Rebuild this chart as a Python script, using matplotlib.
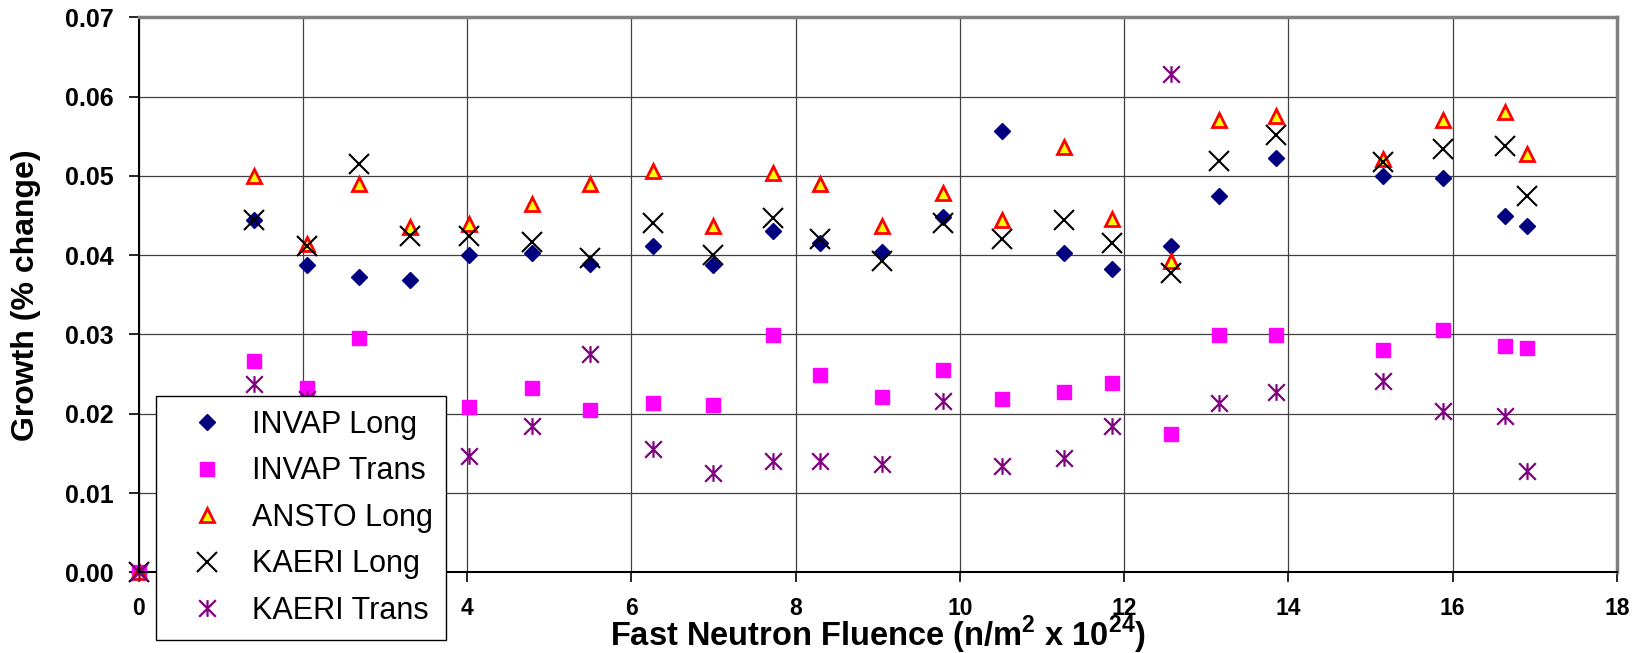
import numpy as np
import matplotlib
matplotlib.use("Agg")
import matplotlib.pyplot as plt
from matplotlib.path import Path

plt.rcParams['font.family'] = ['Liberation Sans', 'DejaVu Sans']
plt.rcParams['mathtext.fontset'] = 'custom'
plt.rcParams['mathtext.rm'] = 'Liberation Sans:bold'
plt.rcParams['mathtext.bf'] = 'Liberation Sans:bold'

# fast neutron fluence (n/m^2 x 1e24), shared by all series
fluence = [0, 1.41, 2.05, 2.69, 3.30, 4.02, 4.79, 5.50, 6.26, 6.99, 7.72, 8.30,
           9.05, 9.79, 10.51, 11.27, 11.85, 12.57, 13.15, 13.85, 15.15, 15.88, 16.64, 16.91]

# growth (% change); nan = hidden behind the legend in the original
invap_long = [0, 0.0444, 0.0387, 0.0372, 0.0369, 0.0400, 0.0403, 0.0389, 0.0412, 0.0388, 0.0431, 0.0415,
              0.0404, 0.0448, 0.0557, 0.0403, 0.0382, 0.0412, 0.0475, 0.0522, 0.0500, 0.0497, 0.0450, 0.0437]
invap_trans = [0, 0.0267, 0.0233, 0.0295, np.nan, 0.0208, 0.0233, 0.0205, 0.0214, 0.0211, 0.0299, 0.0249,
               0.0221, 0.0255, 0.0218, 0.0227, 0.0239, 0.0174, 0.0299, 0.0299, 0.0280, 0.0305, 0.0286, 0.0283]
ansto_long = [0, 0.0500, 0.0414, 0.0490, 0.0435, 0.0439, 0.0465, 0.0490, 0.0506, 0.0437, 0.0503, 0.0490,
              0.0437, 0.0478, 0.0444, 0.0536, 0.0446, 0.0392, 0.0571, 0.0575, 0.0521, 0.0571, 0.0581, 0.0527]
kaeri_long = [0, 0.0444, 0.0412, 0.0515, 0.0424, 0.0424, 0.0416, 0.0397, 0.0441, 0.0400, 0.0447, 0.0421,
              0.0393, 0.0441, 0.0421, 0.0444, 0.0415, 0.0378, 0.0519, 0.0551, 0.0517, 0.0534, 0.0538, 0.0475]
kaeri_trans = [0, 0.0237, 0.0218, np.nan, np.nan, 0.0147, 0.0184, 0.0275, 0.0156, 0.0125, 0.0141, 0.0141,
               0.0137, 0.0216, 0.0134, 0.0144, 0.0184, 0.0628, 0.0213, 0.0228, 0.0241, 0.0203, 0.0197, 0.0128]

# excel style star: an x with a vertical bar
star = Path([(0, -1), (0, 1), (-1, -1), (1, 1), (-1, 1), (1, -1)],
            [Path.MOVETO, Path.LINETO, Path.MOVETO, Path.LINETO, Path.MOVETO, Path.LINETO])

fig = plt.figure(figsize=(16.41, 6.53), dpi=100)
ax = fig.add_axes([138.5 / 1641, 1 - 572.3 / 653, (1617 - 138.5) / 1641, (572.3 - 17.3) / 653])

ax.plot(fluence, invap_long, ls="none", marker="D", ms=8.3, color="#000080", label="INVAP Long", clip_on=False)
ax.plot(fluence, invap_trans, ls="none", marker="s", ms=10.5, color="#FF00FF", label="INVAP Trans", clip_on=False)
ax.plot(fluence, ansto_long, ls="none", marker="^", ms=10.5, mfc="#FFFF00", mec="#FF0000", mew=2,
        label="ANSTO Long", clip_on=False)
ax.plot(fluence, kaeri_long, ls="none", marker="x", ms=15, mew=1.5, color="black", label="KAERI Long", clip_on=False)
ax.plot(fluence, kaeri_trans, ls="none", marker=star, ms=12, mew=1.6, color="#800080", label="KAERI Trans",
        clip_on=False)

ax.set_xlim(0, 18)
ax.set_ylim(0, 0.07)
ax.set_xticks(np.arange(0, 19, 2))
ax.set_yticks(np.arange(0, 0.071, 0.01))
ax.yaxis.set_major_formatter(matplotlib.ticker.FormatStrFormatter("%.2f"))
ax.grid(True, color="#404040", lw=0.9)
ax.set_axisbelow(True)

for side in ["top", "right"]:
    ax.spines[side].set_color("#808080")
    ax.spines[side].set_linewidth(2.5)
for side in ["left", "bottom"]:
    ax.spines[side].set_color("black")
    ax.spines[side].set_linewidth(1.5)

ax.tick_params(axis="both", direction="out", length=7, width=1.2)
ax.tick_params(axis="y", pad=11, labelsize=18)
ax.tick_params(axis="x", pad=11, labelsize=16.5)
for lab in ax.get_xticklabels() + ax.get_yticklabels():
    lab.set_fontweight("bold")

ax.set_ylabel("Growth (% change)", fontsize=23, fontweight="bold")
ax.yaxis.set_label_coords(-0.066, 0.5)
ax.set_xlabel(r"Fast Neutron Fluence (n/m$^{2}$ x 10$^{24}$)", fontsize=23.5, fontweight="bold")
ax.xaxis.set_label_coords(0.5, -0.075)

leg = ax.legend(loc="upper left", bbox_to_anchor=(156 / 1641, 1 - 396 / 653), bbox_transform=fig.transFigure,
                borderaxespad=0, fontsize=22, frameon=True, fancybox=False, framealpha=1, edgecolor="black",
                handlelength=2.43, handletextpad=0.25, labelspacing=0.54, borderpad=0.45, numpoints=1)
leg.get_frame().set_linewidth(1.0)

fig.savefig("out.png", dpi=100)
